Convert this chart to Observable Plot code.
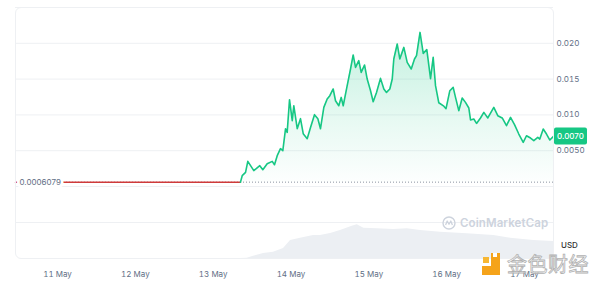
<!DOCTYPE html>
<html><head><meta charset="utf-8">
<script src="https://cdn.jsdelivr.net/npm/d3@7"></script>
<script src="https://cdn.jsdelivr.net/npm/@observablehq/plot@0.6"></script>
<style>
body{margin:0;background:#fff;}
#wrap{position:relative;width:600px;height:285px;overflow:hidden;font-family:Inter,sans-serif;background:#fff;}
#wrap svg{position:absolute;left:0;top:0;}
.frame{position:absolute;left:15px;top:6.5px;width:539px;height:252px;border:1px solid #eef0f3;border-radius:6px;box-sizing:border-box;pointer-events:none;}
.usd{position:absolute;left:561px;top:240px;font-size:8px;line-height:10px;color:#333;font-weight:500;}
.cmc{position:absolute;left:442px;top:216px;display:flex;align-items:center;gap:4px;color:#cdd3dd;font-size:11.5px;font-weight:600;letter-spacing:0.1px;}
.cmc svg{position:static !important;}
.jin{position:absolute;left:482px;top:253px;width:118px;height:24px;}
.jin .a{position:absolute;background:#f5a31a;}
.jin .t{position:absolute;left:25px;top:0px;font-family:"Noto Sans CJK SC",sans-serif;font-size:20px;line-height:21px;color:rgba(255,255,255,0.6);-webkit-text-stroke:0.8px #b0b0b0;letter-spacing:0.5px;}
</style></head><body>
<div id="wrap"></div>
<script>
// ---- data ----
const baseline = 0.0006079;               // reference (open) price
// day of May 2024 (fractional), price in USD
const priceDays = [
  10.460, 11.000, 12.000, 13.000, 13.351,
  13.373, 13.416, 13.445, 13.522, 13.599, 13.638, 13.694, 13.759, 13.788, 13.823,
  13.865, 13.895, 13.930, 13.951, 13.981, 14.016, 14.036, 14.080, 14.122, 14.157,
  14.208, 14.251, 14.302, 14.345, 14.379, 14.422, 14.465, 14.499, 14.542, 14.572,
  14.614, 14.645, 14.671, 14.722, 14.765, 14.799, 14.829, 14.871, 14.902, 14.945,
  14.979, 15.022, 15.056, 15.099, 15.150, 15.193, 15.227, 15.270, 15.301, 15.321,
  15.365, 15.398, 15.450, 15.493, 15.545, 15.587, 15.613, 15.658, 15.699, 15.745,
  15.793, 15.827, 15.857, 15.899, 15.964, 15.992, 16.041, 16.084, 16.114, 16.156,
  16.200, 16.242, 16.285, 16.307, 16.349, 16.384, 16.435, 16.478, 16.529, 16.606,
  16.657, 16.714, 16.769, 16.821, 16.872, 16.927, 16.984, 17.026, 17.078, 17.120,
  17.171, 17.197, 17.241, 17.283, 17.326, 17.373
];
const priceValues = [
  0.0006079, 0.0006079, 0.0006079, 0.0006079, 0.0006079,
  0.00151, 0.00197, 0.00351, 0.00221, 0.00291, 0.00235, 0.00318, 0.00351, 0.00304, 0.00430,
  0.00528, 0.00500, 0.00807, 0.00756, 0.01212, 0.00919, 0.01128, 0.00807, 0.00947, 0.00737,
  0.00668, 0.00825, 0.01003, 0.00947, 0.00807, 0.01105, 0.01222, 0.01268, 0.01362, 0.01198,
  0.01128, 0.01244, 0.01128, 0.01408, 0.01641, 0.01837, 0.01663, 0.01757, 0.01594, 0.01697,
  0.01501, 0.01338, 0.01184, 0.01314, 0.01510, 0.01362, 0.01314, 0.01362, 0.01501, 0.01781,
  0.01990, 0.01781, 0.01943, 0.01733, 0.01641, 0.01781, 0.01827, 0.02152, 0.01859, 0.01911,
  0.01506, 0.01803, 0.01408, 0.01170, 0.01122, 0.01087, 0.01338, 0.01384, 0.01244, 0.01059,
  0.01236, 0.01175, 0.01096, 0.00929, 0.00943, 0.00881, 0.00957, 0.01035, 0.00957, 0.01105,
  0.00989, 0.00957, 0.00849, 0.00965, 0.00863, 0.00733, 0.00616, 0.00709, 0.00677, 0.00640,
  0.00686, 0.00663, 0.00803, 0.00733, 0.00649, 0.00700
];
// trading volume (relative units)
const volumeDays = [13.351, 13.437, 13.518, 13.647, 13.775, 13.904, 13.994, 14.122, 14.289, 14.379,
  14.508, 14.636, 14.786, 14.851, 14.936, 15.108, 15.321, 15.493, 15.664, 15.921,
  16.264, 16.606, 16.821, 17.120, 17.373];
const volumeValues = [0, 0.3, 2.3, 5, 6.3, 10, 18, 20.3, 23, 23,
  25, 28, 32.3, 33.7, 30.3, 29.7, 29, 29.7, 28, 26.3,
  24.7, 23, 20.3, 18, 17];
const tickDays = [11, 12, 13, 14, 15, 16, 17];
const priceTicks = [0.005, 0.01, 0.015, 0.02];
const gridTicks = [0, 0.005, 0.01, 0.015, 0.02, 0.025];
const volumeGrid = [36];

// ---- build ----
const toDate = d => new Date(Date.UTC(2024, 4, 1) + (d - 1) * 864e5);
const n = Math.min(priceDays.length, priceValues.length);
const price = d3.range(n).map(i => ({date: toDate(priceDays[i]), value: priceValues[i]}));
let split = 0;
price.forEach((d, i) => { if (d.value === baseline) split = i; });
const redData = price.slice(0, split + 1);
const greenData = price.slice(split);
const lastValue = price[n - 1].value;
const volume = volumeDays.map((d, i) => ({date: toDate(d), value: volumeValues[i]}));
const xDomain = [price[0].date, price[n - 1].date];
const ns = "http://www.w3.org/2000/svg";
const fmt2 = d3.format(".2r");

const gradient = (index, scales) => {
  const defs = document.createElementNS(ns, "defs");
  const top = scales.y(d3.max(priceValues)), bot = scales.y(baseline);
  defs.innerHTML = `<linearGradient id="pgrad" gradientUnits="userSpaceOnUse" x1="0" y1="${top}" x2="0" y2="${bot}">
    <stop offset="0" stop-color="#16c784" stop-opacity="0.26"/>
    <stop offset="0.6" stop-color="#16c784" stop-opacity="0.10"/>
    <stop offset="1" stop-color="#16c784" stop-opacity="0.01"/></linearGradient>`;
  return defs;
};
const lastBox = (index, scales, values, dims) => {
  const g = document.createElementNS(ns, "g");
  const y = scales.y(lastValue);
  const x0 = dims.width - dims.marginRight + 1;
  g.innerHTML = `<rect x="${x0}" y="${y - 8.5}" width="33" height="17" rx="2" fill="#16c784"/>
    <text x="${x0 + 16.5}" y="${y}" dy="0.35em" text-anchor="middle" fill="#fff" font-size="8" font-family="Inter, sans-serif" font-weight="500">${fmt2(lastValue)}</text>`;
  return g;
};

const pricePlot = Plot.plot({
  width: 600, height: 285,
  marginLeft: 15, marginRight: 47, marginTop: 7, marginBottom: 99,
  style: {background: "transparent", fontFamily: "Inter, sans-serif", fontSize: "8px", overflow: "visible"},
  x: {type: "utc", domain: xDomain, axis: null},
  y: {domain: [0, 0.025], axis: null},
  marks: [
    gradient,
    Plot.gridY(gridTicks, {stroke: "#eef0f3", strokeOpacity: 1}),
    Plot.areaY(greenData, {x: "date", y1: () => baseline, y2: "value", fill: "url(#pgrad)"}),
    Plot.ruleY([baseline], {stroke: "#8b93a1", strokeDasharray: "1 2"}),
    Plot.lineY(redData, {x: "date", y: "value", stroke: "#cf3a3a", strokeWidth: 1.5}),
    Plot.lineY(greenData, {x: "date", y: "value", stroke: "#16c784", strokeWidth: 1.6, strokeLinejoin: "round"}),
    Plot.axisY(priceTicks, {anchor: "right", label: null, tickSize: 0, tickPadding: 3, tickFormat: fmt2, fill: "#616e85", fontSize: 8}),
    Plot.text([baseline], {y: d => d, frameAnchor: "left", dx: 4, textAnchor: "start",
      text: d => d3.format(".4r")(d), fill: "#616e85", stroke: "white", strokeWidth: 6, fontSize: 8}),
    lastBox
  ]
});

const volumePlot = Plot.plot({
  width: 600, height: 285,
  marginLeft: 15, marginRight: 47, marginTop: 186, marginBottom: 27,
  style: {background: "transparent", fontFamily: "Inter, sans-serif", fontSize: "8px", overflow: "visible"},
  x: {type: "utc", domain: xDomain, axis: null},
  y: {domain: [0, 72], axis: null},
  marks: [
    Plot.gridY(volumeGrid, {stroke: "#eef0f3", strokeOpacity: 1}),
    Plot.areaY(volume, {x: "date", y: "value", fill: "#eceff3"}),
    Plot.axisX(tickDays.map(toDate), {anchor: "bottom", label: null, tickSize: 0, tickPadding: 13,
      tickFormat: d3.utcFormat("%-d %b"), fill: "#616e85", fontSize: 8})
  ]
});

const wrap = document.getElementById("wrap");
wrap.appendChild(volumePlot);
wrap.appendChild(pricePlot);
wrap.insertAdjacentHTML("beforeend", `
  <div class="frame"></div>
  <div class="cmc"><svg width="14" height="14" viewBox="0 0 14 14"><circle cx="7" cy="7" r="6" fill="none" stroke="#cdd3dd" stroke-width="1.4"/><path d="M3.6 9 L5.2 5 L7 8.2 L8.8 5 L10.4 9" fill="none" stroke="#cdd3dd" stroke-width="1.3" stroke-linejoin="round"/></svg><span>CoinMarketCap</span></div>
  <div class="usd">USD</div>
  <div class="jin">
    <div class="a" style="left:9px;top:0px;width:9px;height:22px;"></div>
    <div class="a" style="left:0px;top:13px;width:18px;height:9px;"></div>
    <div class="a" style="left:1px;top:4px;width:6px;height:6px;background:#f7b733;"></div>
    <div class="a" style="left:11px;top:0px;width:4px;height:4px;background:#fff;"></div>
    <div class="t">金色财经</div>
  </div>`);
</script>
</body></html>
